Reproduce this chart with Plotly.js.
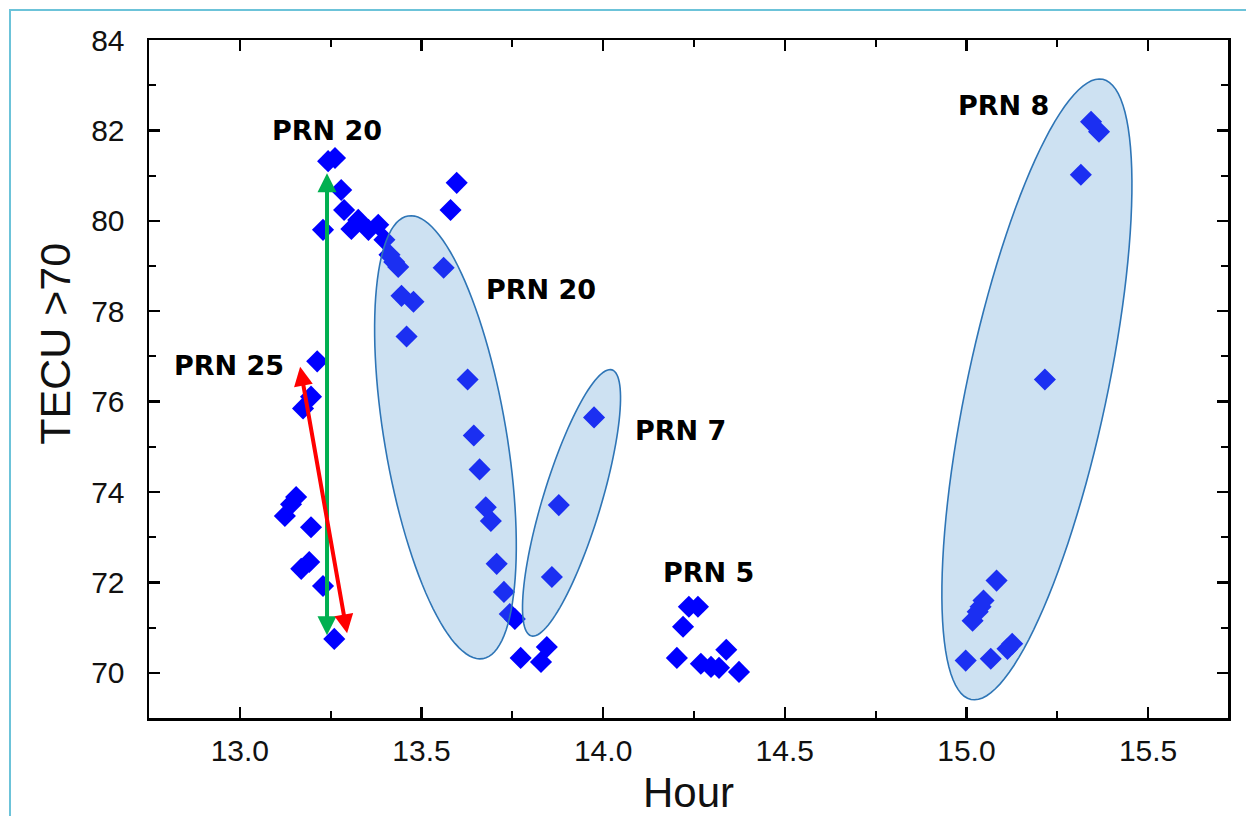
<!DOCTYPE html>
<html>
<head>
<meta charset="utf-8">
<script src="https://cdn.plot.ly/plotly-3.0.1.min.js"></script>
<style>
  html, body { margin: 0; padding: 0; background: #ffffff; }
  #frame { position: absolute; left: 9px; top: 9px; width: 1250px; height: 820px;
           border-left: 2px solid #6cc3d9; border-top: 2px solid #6cc3d9; box-sizing: border-box; }
  #chart { position: absolute; left: 0; top: 0; width: 1246px; height: 816px; }
</style>
</head>
<body>
<div id="frame"></div>
<div id="chart"></div>
<script>
// ---------------- data (Hour, TECU) ----------------
const prn20TopHour = [13.243, 13.262, 13.279, 13.229, 13.287, 13.307, 13.326, 13.354, 13.381, 13.398, 13.412, 13.425, 13.436, 13.445, 13.478, 13.459, 13.561, 13.580, 13.597];
const prn20TopTecu = [81.32, 81.39, 80.68, 79.80, 80.24, 79.82, 80.02, 79.80, 79.91, 79.58, 79.25, 79.09, 78.98, 78.34, 78.21, 77.44, 78.96, 80.24, 80.84];

const prn20Hour = [13.627, 13.644, 13.660, 13.677, 13.691, 13.707, 13.727, 13.743, 13.757, 13.773, 13.845, 13.829];
const prn20Tecu = [76.49, 75.25, 74.50, 73.66, 73.36, 72.41, 71.79, 71.30, 71.19, 70.33, 70.57, 70.24];

const prn7Hour = [13.975, 13.878, 13.859];
const prn7Tecu = [75.65, 73.71, 72.12];

const prn25Hour = [13.213, 13.196, 13.174, 13.155, 13.141, 13.124, 13.196, 13.191, 13.169, 13.229, 13.260];
const prn25Tecu = [76.89, 76.11, 75.85, 73.89, 73.73, 73.47, 73.22, 72.45, 72.30, 71.92, 70.75];

const prn5Hour = [14.220, 14.236, 14.261, 14.203, 14.269, 14.297, 14.319, 14.339, 14.374];
const prn5Tecu = [71.02, 71.46, 71.46, 70.33, 70.20, 70.13, 70.11, 70.51, 70.02];

const prn8Hour = [15.083, 15.047, 15.039, 15.031, 15.017, 15.126, 15.113, 14.998, 15.067, 15.216, 15.315, 15.343, 15.365];
const prn8Tecu = [72.04, 71.60, 71.46, 71.35, 71.15, 70.64, 70.53, 70.27, 70.31, 76.49, 81.02, 82.19, 81.97];

// labels
const labelText = ["PRN 20", "PRN 20", "PRN 25", "PRN 7", "PRN 5", "PRN 8"];
const labelHour = [13.240, 13.829, 12.970, 14.212, 14.291, 15.101];
const labelTecu = [82.00, 78.49, 76.79, 75.35, 72.23, 82.56];

// arrows [tailHour, tailTecu, headHour, headTecu]
const greenArrow = [13.240, 70.80, 13.240, 81.05];
const redArrow = [13.296, 70.84, 13.166, 76.77];

// ellipses: centre (hour, tecu), semi-axes in px, tilt of major axis from vertical (deg, + = top leans right)
const ellCentreHour = [13.566, 13.913, 15.194];
const ellCentreTecu = [75.21, 73.76, 76.27];
const ellMajorPx = [224.5, 139, 317];
const ellMinorPx = [61, 29, 70];
const ellTiltDeg = [-9.6, 16.9, 12];

// axis
const xRange = [12.75, 15.72];
const yRange = [69, 84];
const xTitle = 'Hour';
const yTitle = 'TECU >70';

// ---------------- layout ----------------
const W = 1246, H = 816;
const margin = {l: 149, r: 18, t: 40, b: 98, pad: 0};
const plotW = W - margin.l - margin.r;
const plotH = H - margin.t - margin.b;
const xs = plotW / (xRange[1] - xRange[0]);
const ys = plotH / (yRange[1] - yRange[0]);

function ellipsePath(cx, cy, a, b, tiltDeg) {
  const th = tiltDeg * Math.PI / 180;
  const ux = Math.sin(th), uy = -Math.cos(th);
  const vx = Math.cos(th), vy = Math.sin(th);
  let d = '';
  const N = 120;
  for (let i = 0; i <= N; i++) {
    const t = 2 * Math.PI * i / N;
    const px = a * Math.cos(t) * ux + b * Math.sin(t) * vx;
    const py = a * Math.cos(t) * uy + b * Math.sin(t) * vy;
    const X = cx + px / xs;
    const Y = cy - py / ys;
    d += (i === 0 ? 'M' : 'L') + X.toFixed(5) + ',' + Y.toFixed(5);
  }
  return d + 'Z';
}

const shapes = ellCentreHour.map((c, i) => ({
  type: 'path', xref: 'x', yref: 'y', layer: 'above',
  path: ellipsePath(c, ellCentreTecu[i], ellMajorPx[i], ellMinorPx[i], ellTiltDeg[i]),
  fillcolor: 'rgba(91,155,213,0.30)',
  line: {color: '#2e75b6', width: 1.6}
}));

const markerStyle = {symbol: 'diamond', size: 17, color: '#0000ff', line: {width: 0}};
function tr(x, y) {
  return {x: x, y: y, type: 'scatter', mode: 'markers', marker: markerStyle, showlegend: false, hoverinfo: 'skip'};
}
const data = [
  tr(prn20TopHour, prn20TopTecu),
  tr(prn20Hour, prn20Tecu),
  tr(prn7Hour, prn7Tecu),
  tr(prn25Hour, prn25Tecu),
  tr(prn5Hour, prn5Tecu),
  tr(prn8Hour, prn8Tecu)
];

function arrow(a, color) {
  return {
    x: a[2], y: a[3], ax: a[0], ay: a[1], xref: 'x', yref: 'y', axref: 'x', ayref: 'y',
    text: '', showarrow: true, arrowhead: 2, arrowside: 'end+start', arrowsize: 0.95,
    arrowwidth: 4, arrowcolor: color, standoff: 0, startstandoff: 0
  };
}

const axisFont = 'Liberation Sans, Arial, sans-serif';
const annotations = labelText.map((t, i) => ({
  x: labelHour[i], y: labelTecu[i], xref: 'x', yref: 'y', text: t, showarrow: false,
  font: {family: 'DejaVu Sans, Verdana, sans-serif', size: 27, color: '#000000', weight: 'bold'},
  xanchor: 'center', yanchor: 'middle'
}));
annotations.push(arrow(greenArrow, '#00b050'));
annotations.push(arrow(redArrow, '#ff0000'));
// y-axis title (placed as text to match original position)
annotations.push({
  text: yTitle, xref: 'paper', yref: 'paper', x: -0.087, y: 0.552, showarrow: false,
  textangle: -90, xanchor: 'center', yanchor: 'middle',
  font: {family: axisFont, size: 43, color: '#111111'}
});

const axisCommon = {
  showline: true, linecolor: '#000000', linewidth: 2.5, mirror: 'ticks',
  ticks: 'inside', ticklen: 11, tickwidth: 2.5, tickcolor: '#000000',
  showgrid: false, zeroline: false,
  tickfont: {family: axisFont, size: 30, color: '#111111'}
};

const layout = {
  width: W, height: H,
  margin: margin,
  paper_bgcolor: 'rgba(0,0,0,0)',
  plot_bgcolor: '#ffffff',
  xaxis: Object.assign({}, axisCommon, {
    range: xRange, dtick: 0.5, tick0: 13, tickformat: '.1f', ticklabelstandoff: 4,
    minor: {ticks: 'inside', ticklen: 7, tickwidth: 2, tickcolor: '#000000', dtick: 0.25, tick0: 13},
    title: {text: xTitle, font: {family: axisFont, size: 42, color: '#111111'}, standoff: 14}
  }),
  yaxis: Object.assign({}, axisCommon, {
    range: yRange, dtick: 2, tick0: 70, ticklabelstandoff: 16,
    minor: {ticks: 'inside', ticklen: 7, tickwidth: 2, tickcolor: '#000000', dtick: 1, tick0: 70}
  }),
  shapes: shapes,
  annotations: annotations
};

Plotly.newPlot('chart', data, layout, {displayModeBar: false, staticPlot: true});
</script>
</body>
</html>
